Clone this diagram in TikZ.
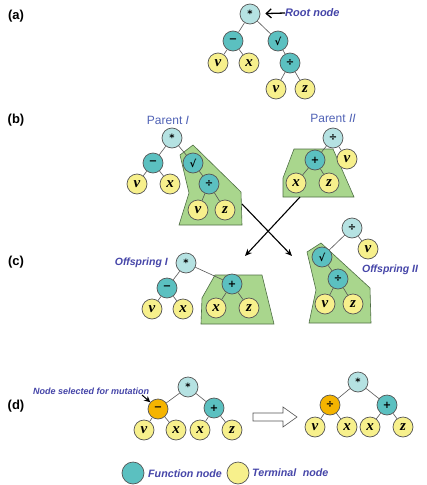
\documentclass[tikz,border=0pt]{standalone}
\usepackage{fontspec}
\setmainfont{Liberation Sans}
\newfontfamily\varf{Liberation Serif}
\newfontfamily\opf{DejaVu Sans}
\usetikzlibrary{arrows.meta}
\definecolor{cyanl}{HTML}{B5E2E2}
\definecolor{teal1}{HTML}{5BC0C0}
\definecolor{yel}{HTML}{F7F08C}
\definecolor{orng}{HTML}{F5B400}
\definecolor{grn}{HTML}{A9D68D}
\definecolor{grnb}{HTML}{4F6E45}
\definecolor{bord}{HTML}{555555}
\definecolor{lblue}{HTML}{4545A8}
\definecolor{pblue}{HTML}{5062B5}
\tikzset{
  nd/.style={circle, draw=bord, line width=0.7pt, minimum size=20pt, inner sep=0pt},
  fn/.style={nd, fill=teal1, font=\opf\bfseries\fontsize{10}{10}\selectfont},
  rt/.style={fn, fill=cyanl},
  mut/.style={fn, fill=orng},
  tm/.style={nd, fill=yel, font=\varf\bfseries\itshape\fontsize{15}{15}\selectfont},
  link/.style={draw=bord, line width=0.6pt},
  blob/.style={draw=grnb, line width=0.6pt, fill=grn},
  plabel/.style={font=\bfseries\fontsize{13}{13}\selectfont},
  bi/.style={text=lblue, font=\bfseries\itshape\fontsize{#1}{#1}\selectfont, inner sep=0pt},
  ptxt/.style={text=pblue, font=\fontsize{12}{12}\selectfont, inner sep=0pt},
}
\begin{document}
\begin{tikzpicture}[x=1pt,y=-1pt]
\useasboundingbox (0,0) rectangle (427,485);
% panel labels
\node[plabel] (la) at (16,16) {(a)};
\node[plabel] (lb) at (16,120.5) {(b)};
\node[plabel] (lc) at (16,262) {(c)};
\node[plabel] (ld) at (16,406) {(d)};

% green blobs
\draw[blob] (180,155) -- (193,145) -- (241,192) -- (242,225) -- (179,225) -- (189,193) -- cycle;
\draw[blob] (294,149) -- (333,149) -- (354,197) -- (283,197) -- (283,178) -- cycle;
\draw[blob] (215,275) -- (262,275) -- (274,324) -- (201,324) -- (202,298) -- cycle;
\draw[blob] (307,252) -- (321,243) -- (370,288) -- (371,323) -- (309,323) -- (316,290) -- cycle;

% (a)
\node[rt] (a0) at (250,14) {*};
\node[fn] (a1) at (233,41) {−};
\node[fn] (a2) at (278,41) {√};
\node[tm] (a3) at (218,63) {v};
\node[tm] (a4) at (249,63) {x};
\node[fn] (a5) at (290,63) {÷};
\node[tm] (a6) at (276,89) {v};
\node[tm] (a7) at (305,89) {z};
\draw[link] (a0)--(a1) (a0)--(a2) (a1)--(a3) (a1)--(a4) (a2)--(a5) (a5)--(a6) (a5)--(a7);
\node[bi=11, anchor=west] (rtxt) at (285,13) {Root node};
\draw[line width=1.3pt, -{Straight Barb[length=5pt,width=9pt]}, shorten >=5pt] (rtxt.west) -- (a0);

% (b) Parent I
\node[ptxt] (pI) at (168,120) {Parent \textit{I}};
\node[rt] (b0) at (172,138) {*};
\node[fn] (b1) at (153,163) {−};
\node[fn] (b2) at (193,163) {√};
\node[tm] (b3) at (137,184) {v};
\node[tm] (b4) at (170,184) {x};
\node[fn] (b5) at (209,184) {÷};
\node[tm] (b6) at (198,210) {v};
\node[tm] (b7) at (225,210) {z};
\draw[link] (b0)--(b1) (b0)--(b2) (b1)--(b3) (b1)--(b4) (b2)--(b5) (b5)--(b6) (b5)--(b7);

% (b) Parent II
\node[ptxt] (pII) at (333,118) {Parent \textit{II}};
\node[rt] (p0) at (333,138) {÷};
\node[fn] (p1) at (315,160) {+};
\node[tm] (p2) at (347,159) {v};
\node[tm] (p3) at (296,183) {x};
\node[tm] (p4) at (329,183) {z};
\draw[link] (p0)--(p1) (p0)--(p2) (p1)--(p3) (p1)--(p4);

% crossover arrows
\coordinate (c1s) at (242,204);
\coordinate (c1e) at (292,256);
\coordinate (c2s) at (300,197);
\coordinate (c2e) at (245,256);
\draw[line width=1.1pt, -{Stealth[length=7pt,width=6pt]}] (c1s) -- (c1e);
\draw[line width=1.1pt, -{Stealth[length=7pt,width=6pt]}] (c2s) -- (c2e);

% (c) Offspring I
\node[bi=10.5, anchor=east] (oI) at (168,263) {Offspring I};
\node[rt] (o0) at (186,263) {*};
\node[fn] (o1) at (167,288) {−};
\node[fn] (o2) at (232,284) {+};
\node[tm] (o3) at (152,309) {v};
\node[tm] (o4) at (183,309) {x};
\node[tm] (o5) at (216,308) {x};
\node[tm] (o6) at (249,308) {z};
\draw[link] (o0)--(o1) (o0)--(o2) (o1)--(o3) (o1)--(o4) (o2)--(o5) (o2)--(o6);

% (c) Offspring II
\node[bi=10.5, anchor=west] (oII) at (362,270) {Offspring II};
\node[rt] (q0) at (352,228) {÷};
\node[tm] (q1) at (368,249) {v};
\node[fn] (q2) at (322,257) {√};
\node[fn] (q3) at (338,279) {÷};
\node[tm] (q4) at (325,304) {v};
\node[tm] (q5) at (353,304) {z};
\draw[link] (q0)--(q1) (q0)--(q2) (q2)--(q3) (q3)--(q4) (q3)--(q5);

% (d) mutation
\node[rt] (d0) at (188,387) {*};
\node[mut] (d1) at (158,409) {−};
\node[fn] (d2) at (214,408) {+};
\node[tm] (d3) at (144,430) {v};
\node[tm] (d4) at (176,430) {x};
\node[tm] (d5) at (200,430) {x};
\node[tm] (d6) at (232,430) {z};
\draw[link] (d0)--(d1) (d0)--(d2) (d1)--(d3) (d1)--(d4) (d2)--(d5) (d2)--(d6);
\node[bi=9, anchor=west] (mtxt) at (33,391) {Node selected for mutation};
\coordinate (ms) at (142,395);
\draw[line width=1pt, -{Stealth[length=6pt,width=6pt]}] (ms) -- (d1);

\draw[draw=bord, line width=0.6pt, fill=white] (253,413) -- (283,413) -- (283,407) -- (297,417) -- (283,427) -- (283,421) -- (253,421) -- cycle;

\node[rt] (e0) at (358,382) {*};
\node[mut] (e1) at (330,405) {÷};
\node[fn] (e2) at (387,405) {+};
\node[tm] (e3) at (315,427) {v};
\node[tm] (e4) at (347,427) {x};
\node[tm] (e5) at (370,427) {x};
\node[tm] (e6) at (403,427) {z};
\draw[link] (e0)--(e1) (e0)--(e2) (e1)--(e3) (e1)--(e4) (e2)--(e5) (e2)--(e6);

% legend
\node[fn, minimum size=22pt] (lg1) at (133,473) {};
\node[bi=10.7, anchor=west] (lt1) at (148,473.5) {Function node};
\node[tm, minimum size=22pt] (lg2) at (238,473) {};
\node[bi=10.7, anchor=west] (lt2) at (252,472.5) {Terminal\hspace{0.6em}node};
\end{tikzpicture}
\end{document}
